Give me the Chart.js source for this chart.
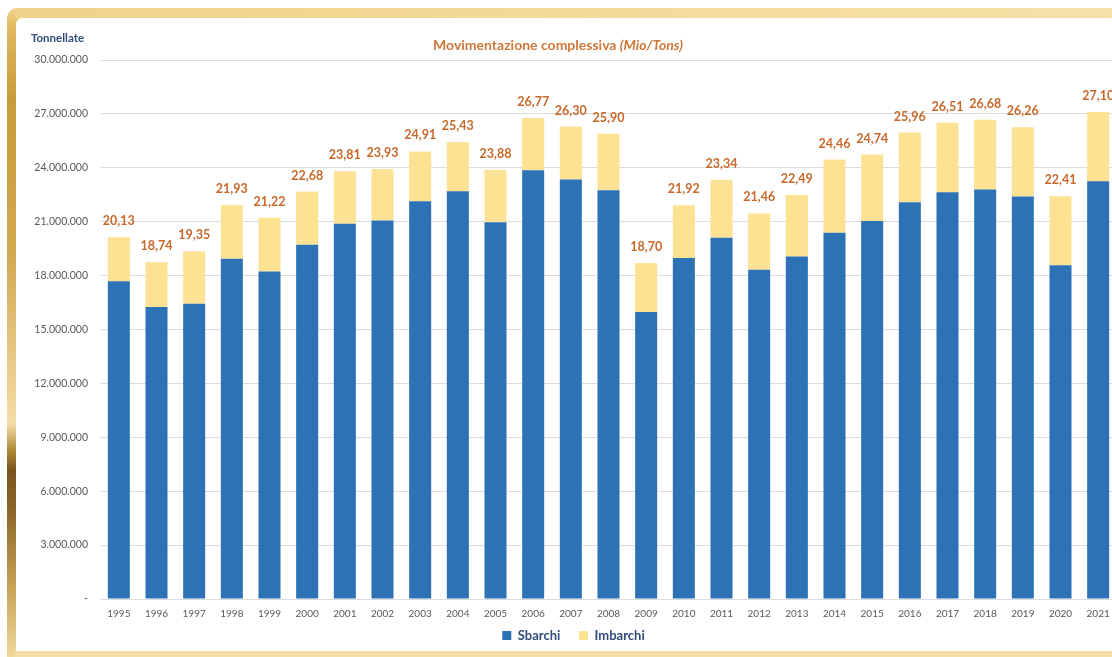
<!DOCTYPE html>
<html>
<head>
<meta charset="utf-8">
<script src="https://cdn.jsdelivr.net/npm/chart.js@4.4.0/dist/chart.umd.min.js"></script>
<style>
  html, body { margin: 0; padding: 0; width: 1112px; height: 657px; overflow: hidden; background: #fff; }
  .frame {
    position: absolute; left: 7px; top: 8px; width: 1140px; height: 660px;
    border-radius: 10px 0 0 0;
    background: linear-gradient(to bottom,
      #f0d48e 0%, #e0b860 3%, #c99a3a 14%, #d2a850 37%, #efd49a 59%, #f3deaa 63%,
      #b08a3a 67%, #7a5520 70%, #8a6528 76%, #c8a458 88%, #f2dca0 99%);
  }
  .frame .top { position: absolute; left: 8px; top: 0; right: 0; height: 10px;
    background: linear-gradient(to right, #f0d28a, #f6e2a8); }
  .frame .bottom { position: absolute; left: 8px; top: 643px; right: 0; height: 20px; background: #f4dea6; }
  .inner { position: absolute; left: 9px; top: 10px; width: 1130px; height: 633px;
    background: #fff; border-radius: 6px 0 0 0; }
  canvas { position: absolute; left: 0; top: 0; }
</style>
</head>
<body>
<div class="frame"><div class="top"></div><div class="bottom"></div><div class="inner"></div></div>
<canvas id="movChart" width="1130" height="657"></canvas>
<script>
// Years shown on the x axis
const years = ['1995', '1996', '1997', '1998', '1999', '2000', '2001', '2002', '2003', '2004',
  '2005', '2006', '2007', '2008', '2009', '2010', '2011', '2012', '2013', '2014',
  '2015', '2016', '2017', '2018', '2019', '2020', '2021'];

// Landings (Sbarchi), million tons
const sbarchi = [17.68, 16.25, 16.43, 18.94, 18.23, 19.72, 20.89, 21.06, 22.14, 22.70,
  20.97, 23.87, 23.35, 22.75, 15.97, 18.98, 20.10, 18.33, 19.07, 20.38,
  21.04, 22.08, 22.64, 22.79, 22.40, 18.57, 23.25];

// Shipments (Imbarchi), million tons - yellow part on top
const imbarchi = [2.45, 2.49, 2.92, 2.99, 2.99, 2.96, 2.92, 2.87, 2.77, 2.73,
  2.91, 2.90, 2.95, 3.15, 2.73, 2.94, 3.24, 3.13, 3.42, 4.08,
  3.70, 3.88, 3.87, 3.89, 3.86, 3.84, 3.85];

const FONT = 'Lato, "Open Sans", sans-serif';
const BLUE = '#2e72b6';
const YELLOW = '#fde294';
const LABEL = '#c8682a';
const NAVY = '#2f4d7c';

// 30000000 -> "30.000.000", 0 -> "-"
function formatTons(v) {
  if (v === 0) return '-';
  return String(Math.round(v)).replace(/\B(?=(\d{3})+(?!\d))/g, '.');
}

// Header texts: axis unit + mixed-style title
const headerPlugin = {
  id: 'header',
  afterDraw(chart) {
    const ctx = chart.ctx;
    ctx.save();
    ctx.textBaseline = 'middle';
    ctx.fillStyle = NAVY;
    ctx.font = 'bold 11.5px ' + FONT;
    ctx.textAlign = 'left';
    ctx.fillText('Tonnellate', 31, 38);

    const main = 'Movimentazione complessiva ';
    const ital = '(Mio/Tons)';
    ctx.font = 'bold 14px ' + FONT;
    const w1 = ctx.measureText(main).width;
    ctx.font = 'italic bold 14px ' + FONT;
    const w2 = ctx.measureText(ital).width;
    const x = 558 - (w1 + w2) / 2;
    ctx.fillStyle = '#d0783a';
    ctx.font = 'bold 14px ' + FONT;
    ctx.fillText(main, x, 45);
    ctx.font = 'italic bold 14px ' + FONT;
    ctx.fillText(ital, x + w1, 45);
    ctx.restore();
  }
};

// Total (Mio/Tons) above each stacked bar
const totalsPlugin = {
  id: 'totals',
  afterDatasetsDraw(chart) {
    const ctx = chart.ctx;
    const topMeta = chart.getDatasetMeta(1);
    ctx.save();
    ctx.font = 'bold 12.5px ' + FONT;
    ctx.fillStyle = LABEL;
    ctx.textAlign = 'center';
    ctx.textBaseline = 'middle';
    topMeta.data.forEach((bar, i) => {
      const total = (sbarchi[i] + imbarchi[i]).toFixed(2).replace('.', ',');
      ctx.fillText(total, bar.x, bar.y - 16);
    });
    ctx.restore();
  }
};

const ctx = document.getElementById('movChart').getContext('2d');
new Chart(ctx, {
  type: 'bar',
  data: {
    labels: years,
    datasets: [
      {
        label: 'Sbarchi',
        data: sbarchi.map(v => v * 1e6),
        backgroundColor: BLUE,
        barPercentage: 1,
        categoryPercentage: 0.585
      },
      {
        label: 'Imbarchi',
        data: imbarchi.map(v => v * 1e6),
        backgroundColor: YELLOW,
        barPercentage: 1,
        categoryPercentage: 0.585
      }
    ]
  },
  options: {
    responsive: false,
    animation: false,
    layout: { padding: { left: 30, top: 60, right: 13, bottom: 5 } },
    plugins: {
      tooltip: { enabled: false },
      legend: {
        position: 'bottom',
        labels: {
          boxWidth: 9,
          boxHeight: 9,
          padding: 6,
          color: NAVY,
          font: { family: FONT, size: 13, weight: 'bold' },
          // small padding keeps the legend low; widen the gap between the two items
          generateLabels(chart) {
            const items = Chart.defaults.plugins.legend.labels.generateLabels(chart);
            items[0].text += '    ';
            return items;
          }
        }
      }
    },
    scales: {
      x: {
        stacked: true,
        grid: { display: false, drawTicks: false },
        border: { display: false },
        ticks: {
          color: '#595959',
          font: { family: FONT, size: 10 },
          padding: 9,
          maxRotation: 0,
          autoSkip: false
        },
        afterFit(scale) { scale.height = 24; }
      },
      y: {
        stacked: true,
        min: 0,
        max: 30000000,
        grid: { color: '#dcdcdc', drawTicks: false },
        border: { display: false },
        ticks: {
          stepSize: 3000000,
          color: '#595959',
          padding: 12,
          font: { family: FONT, size: 10.5 },
          callback: v => formatTons(v)
        },
        afterFit(scale) { scale.width = 70; }
      }
    }
  },
  plugins: [headerPlugin, totalsPlugin]
});
</script>
</body>
</html>
